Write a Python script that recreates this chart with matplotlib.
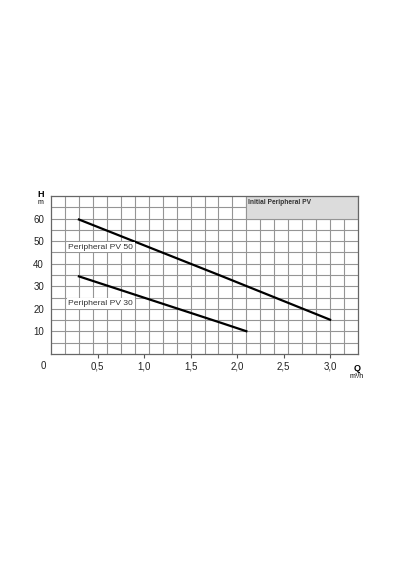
import numpy as np
import matplotlib
matplotlib.use("Agg")
import matplotlib.pyplot as plt
from matplotlib.patches import Rectangle

plt.rcParams['font.family'] = ['Liberation Sans', 'DejaVu Sans']

# Data
pv50_q = [0.30, 1.80, 3.00]
pv50_h = [59.6, 35.1, 15.2]
pv30_q = [0.30, 1.80, 2.10]
pv30_h = [34.4, 14.2, 10.1]
x_ticks = [0.5, 1.0, 1.5, 2.0, 2.5, 3.0]
x_labels = ["0,5", "1,0", "1,5", "2,0", "2,5", "3,0"]
y_ticks = [10, 20, 30, 40, 50, 60]
y_labels = ["10", "20", "30", "40", "50", "60"]
series_names = ["Peripheral PV 50", "Peripheral PV 30"]
title_box = "Initial Peripheral PV"

fig = plt.figure(figsize=(4.0, 5.7), dpi=100)
ax = fig.add_axes([0.1275, 0.3789, 0.7675, 0.2772])
ax.set_xlim(0, 3.3)
ax.set_ylim(0, 70)

gridc = '#959595'
for gx in np.arange(0.15, 3.2, 0.15):
    ax.axvline(gx, color=gridc, lw=0.8, zorder=1)
for gy in np.arange(5, 66, 5):
    ax.axhline(gy, color=gridc, lw=0.8, zorder=1)

ax.set_xticks(x_ticks)
ax.set_xticklabels(x_labels)
ax.set_yticks(y_ticks)
ax.set_yticklabels(y_labels)
ax.tick_params(axis='x', which='major', length=3, width=0.8, color='#555555',
               labelsize=7, pad=2.5, labelcolor='#222222')
ax.tick_params(axis='y', which='major', length=0, labelsize=7, pad=5,
               labelcolor='#222222')
for s in ax.spines.values():
    s.set_color('#666666')
    s.set_linewidth(0.9)

# grey title box
ax.add_patch(Rectangle((2.1, 60), 1.2, 10, facecolor='#dcdcdc',
                       edgecolor=gridc, lw=0.8, zorder=2))
ax.text(2.12, 68.9, title_box, fontsize=4.8, fontweight='bold',
        ha='left', va='top', color='#333333', zorder=3)

ax.plot(pv50_q, pv50_h, color='black', lw=1.6, zorder=4)
ax.plot(pv30_q, pv30_h, color='black', lw=1.6, zorder=4)
box = dict(facecolor='white', edgecolor='none', pad=1.2)
ax.text(0.185, 47.3, series_names[0], fontsize=6.1, va='center', ha='left',
        color='#333333', zorder=5, bbox=box)
ax.text(0.185, 22.3, series_names[1], fontsize=6.1, va='center', ha='left',
        color='#333333', zorder=5, bbox=box)

# axis captions
ax.text(-0.088, -5.3, "0", fontsize=7, ha='center', va='center',
        color='#222222', clip_on=False)
ax.text(-0.11, 70.8, "H", fontsize=6.5, fontweight='bold', ha='center',
        va='center', clip_on=False)
ax.text(-0.11, 67.3, "m", fontsize=5, ha='center', va='center', clip_on=False)
ax.text(3.29, -6.2, "Q", fontsize=6.5, fontweight='bold', ha='center',
        va='center', clip_on=False)
ax.text(3.29, -9.8, "m³/h", fontsize=5, ha='center', va='center',
        clip_on=False)

fig.savefig("out.png", dpi=100)
